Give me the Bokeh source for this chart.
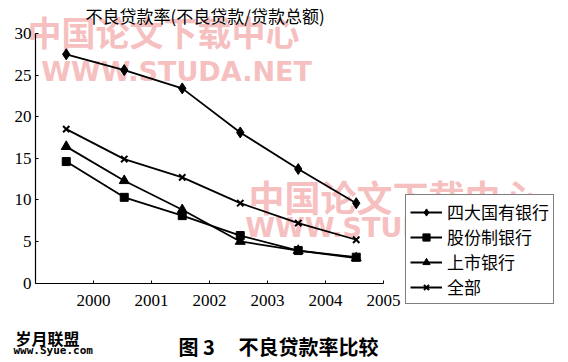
from bokeh.plotting import figure
from bokeh.models import ColumnDataSource, Legend, LegendItem, Label, FixedTicker
from bokeh.transform import dodge
from bokeh.embed import file_html
from bokeh.resources import INLINE

# ---- data ----
years = [2000, 2001, 2002, 2003, 2004, 2005]
big4 = [27.5, 25.6, 23.4, 18.1, 13.7, 9.6]        # 四大国有银行
joint = [14.6, 10.3, 8.1, 5.7, 3.9, 3.1]          # 股份制银行
listed = [16.4, 12.3, 8.8, 5.0, 3.9, 3.0]         # 上市银行
total = [18.5, 14.9, 12.7, 9.6, 7.2, 5.2]         # 全部
series_names = ["四大国有银行", "股份制银行", "上市银行", "全部"]
y_ticks = [0, 5, 10, 15, 20, 25, 30]
x_axis_start = 1999
y_min, y_max = 0, 30

title_text = "不良贷款率(不良贷款/贷款总额)"
caption_fig = "图 3"
caption_text = "不良贷款率比较"

# ---- layout (pixels) ----
W, H = 568, 362
ax_left, ax_right = 35, 383      # pixel x of x_axis_start and last year
ax_top, ax_bottom = 33, 282.5    # pixel y of y_max and y_min

px_per_x = (ax_right - ax_left) / (years[-1] - x_axis_start)
px_per_y = (ax_bottom - ax_top) / (y_max - y_min)
x_range = (x_axis_start - ax_left / px_per_x, x_axis_start + (W - ax_left) / px_per_x)
y_range = (y_min - (H - ax_bottom) / px_per_y, y_max + ax_top / px_per_y)

src = ColumnDataSource(dict(x=years, big4=big4, joint=joint, listed=listed, total=total))

p = figure(width=W, height=H, output_backend="svg", toolbar_location=None,
           x_range=x_range, y_range=y_range,
           min_border=0)
p.outline_line_color = None
p.xgrid.visible = False
p.ygrid.visible = False
p.background_fill_color = "white"
p.border_fill_color = "white"

p.xaxis[0].fixed_location = y_min
p.yaxis[0].fixed_location = x_axis_start
p.xaxis[0].bounds = (x_axis_start, years[-1])
p.yaxis[0].bounds = (y_min, y_max)

for ax, ticks in ((p.xaxis[0], years), (p.yaxis[0], y_ticks)):
    ax.ticker = FixedTicker(ticks=ticks)
    ax.major_tick_in = 3
    ax.major_tick_out = 0
    ax.minor_tick_line_color = None
    ax.axis_line_color = "black"
    ax.axis_line_width = 1.2
    ax.major_tick_line_color = "black"
    ax.major_label_text_font = "Liberation Serif"
    ax.major_label_text_font_size = "17px"
    ax.major_label_text_color = "black"
p.xaxis[0].major_label_standoff = 12
p.yaxis[0].major_label_standoff = 4

xs = dodge("x", -0.47)

# watermarks (light pink, behind the data)
wm_color = "#f6c0c0"
for txt, sx, sy, fs, font in [
    ("中国论文下载中心", 163, 331, "34px", "Noto Sans CJK SC"),
    ("WWW.STUDA.NET", 176, 291, "27px", "DejaVu Sans"),
    ("中国论文下载中心", 392, 167, "36px", "Noto Sans CJK SC"),
    ("WWW.STUDA.NET", 380, 135, "27px", "DejaVu Sans"),
]:
    p.add_layout(Label(x=sx, y=sy, x_units="screen", y_units="screen", text=txt,
                       text_align="center", text_baseline="middle",
                       text_font=font, text_font_style="bold",
                       text_font_size=fs, text_color=wm_color, level="underlay"))

items = []
for col, marker, size, name in [("big4", "diamond", 11, series_names[0]),
                                ("joint", "square", 8, series_names[1]),
                                ("listed", "triangle", 10, series_names[2]),
                                ("total", "x", 9, series_names[3])]:
    r1 = p.line(x=xs, y=col, source=src, line_color="black", line_width=1.8)
    r2 = p.scatter(x=xs, y=col, source=src, marker=marker, size=size,
                   line_color="black", fill_color="black", line_width=2 if marker == "x" else 1)
    items.append(LegendItem(label=name, renderers=[r1, r2]))

legend = Legend(items=items, location=(405, H - 304), orientation="vertical")
legend.margin = 0
legend.padding = 4
legend.spacing = -4
legend.glyph_width = 32
legend.glyph_height = 18
legend.label_height = 18
legend.label_standoff = 5
legend.label_text_font = "Noto Sans CJK SC"
legend.label_text_font_size = "17px"
legend.label_text_color = "black"
legend.border_line_color = "black"
legend.border_line_width = 1
legend.background_fill_color = "white"
legend.background_fill_alpha = 1
p.add_layout(legend)

def add_text(txt, sx, sy, size, font="Noto Sans CJK SC", style="normal"):
    p.add_layout(Label(x=sx, y=sy, x_units="screen", y_units="screen", text=txt,
                       text_baseline="middle", text_align="left", text_font_style=style,
                       text_font=font, text_font_size=size, text_color="black"))

add_text(title_text, 85, H - 14.5, "17px")
add_text(caption_fig, 178, H - 346, "20px", style="bold")
add_text(caption_text, 238, H - 346, "20px", style="bold")
add_text("岁月联盟", 15, H - 337, "16px", style="bold")
add_text("www.Syue.com", 13, H - 349.5, "11px", font="DejaVu Sans Mono", style="bold")

open("out.html", "w").write(file_html(p, INLINE))
